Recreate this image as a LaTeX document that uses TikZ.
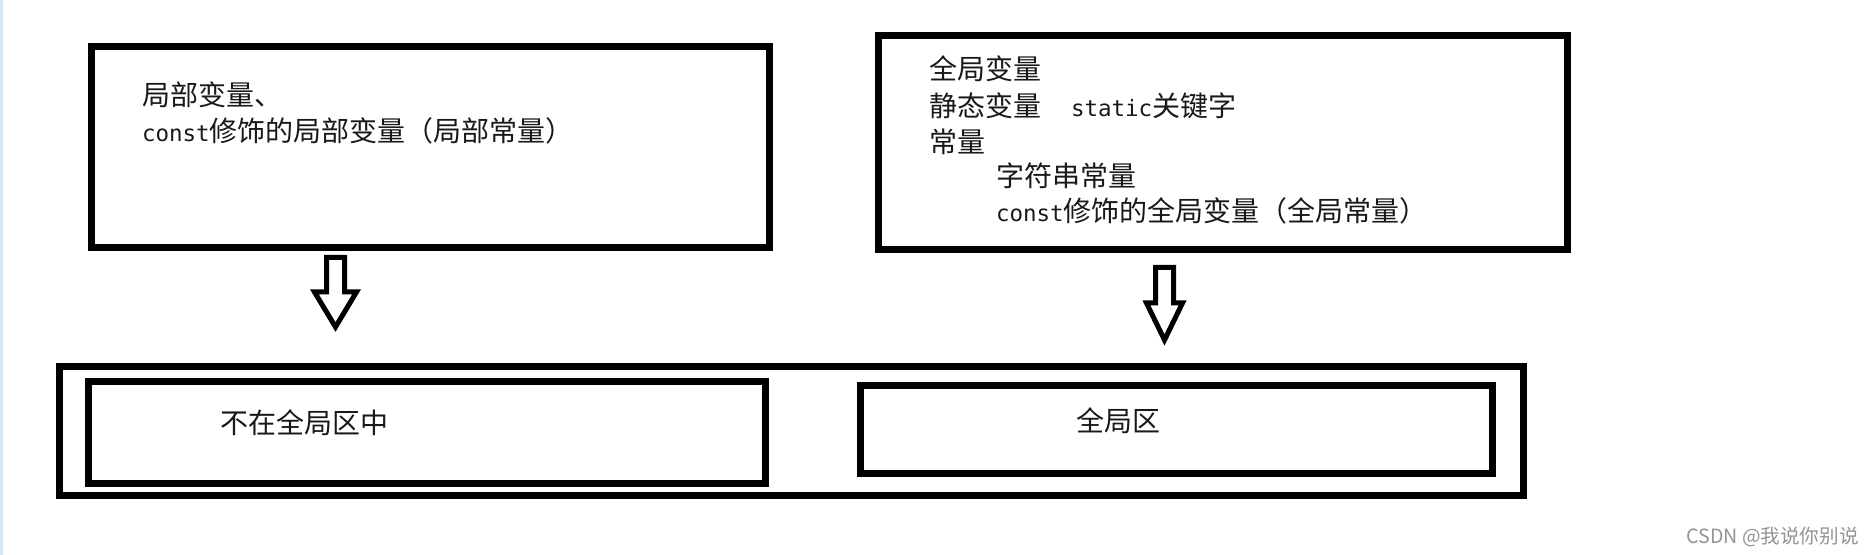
\documentclass[tikz,border=0pt]{standalone}
\usepackage{fontspec}
\newfontfamily\cjk{Noto Sans CJK SC}
\newfontfamily\monolat{DejaVu Sans Mono}
\newcommand\lat[1]{{\monolat\fontsize{11.25pt}{12pt}\selectfont #1}}
\definecolor{edgeblue}{RGB}{214,230,246}
\begin{document}
\begin{tikzpicture}[x=0.5pt,y=-0.5pt,
  box/.style={draw=black,line width=3.5pt,minimum width=#1,inner sep=0pt,outer sep=0pt},
  txt/.style={anchor=base west,inner sep=0pt,outer sep=0pt,font=\cjk\fontsize{14pt}{16pt}\selectfont,text=black!90},
  blockarrow/.style={draw=black,line width=2.5pt,line join=miter,fill=white},
  wm/.style={anchor=base east,inner sep=0pt,font=\cjk\fontsize{9.8pt}{11pt}\selectfont,text=black!42}]
\useasboundingbox (0,0) rectangle (1875,555);
\fill[white] (0,0) rectangle (1875,555);
\fill[edgeblue] (0,0) rectangle (2.5,555);
% top boxes
\node[box=339pt,minimum height=100.5pt] (local) at (430.5,147) {};
\node[box=344.5pt,minimum height=107pt] (global) at (1223,142.5) {};
% bottom boxes
\node[box=732pt,minimum height=64.5pt] (mem) at (791.5,431) {};
\node[box=338.5pt,minimum height=51pt] (notglob) at (427,432.5) {};
\node[box=316pt,minimum height=44pt] (globarea) at (1176.5,429.5) {};
% texts left
\node[txt] (l1) at (142,106) {局部变量、};
\node[txt] (l2) at (142,142) {\lat{const}修饰的局部变量（局部常量）};
% texts right
\node[txt] (r1) at (929,80) {全局变量};
\node[txt] (r2) at (929,117) {静态变量\hspace{15pt}\lat{static}关键字};
\node[txt] (r3) at (929,152.5) {常量};
\node[txt] (r4) at (996,187) {字符串常量};
\node[txt] (r5) at (996,222) {\lat{const}修饰的全局变量（全局常量）};
% bottom texts
\node[txt] (b1) at (220,434) {不在全局区中};
\node[txt] (b2) at (1076,431.5) {全局区};
% block arrows
\draw[blockarrow] (326.5,257.5) -- (344.5,257.5) -- (344.5,292) -- (356.5,292) -- (335.5,327) -- (314.5,292) -- (326.5,292) -- cycle;
\draw[blockarrow] (1155.5,267.5) -- (1173.5,267.5) -- (1173.5,303) -- (1182.5,303) -- (1164.5,340) -- (1146.5,303) -- (1155.5,303) -- cycle;
% watermark
\node[wm] (wmk) at (1859,544) {CSDN @我说你别说};
\end{tikzpicture}
\end{document}
